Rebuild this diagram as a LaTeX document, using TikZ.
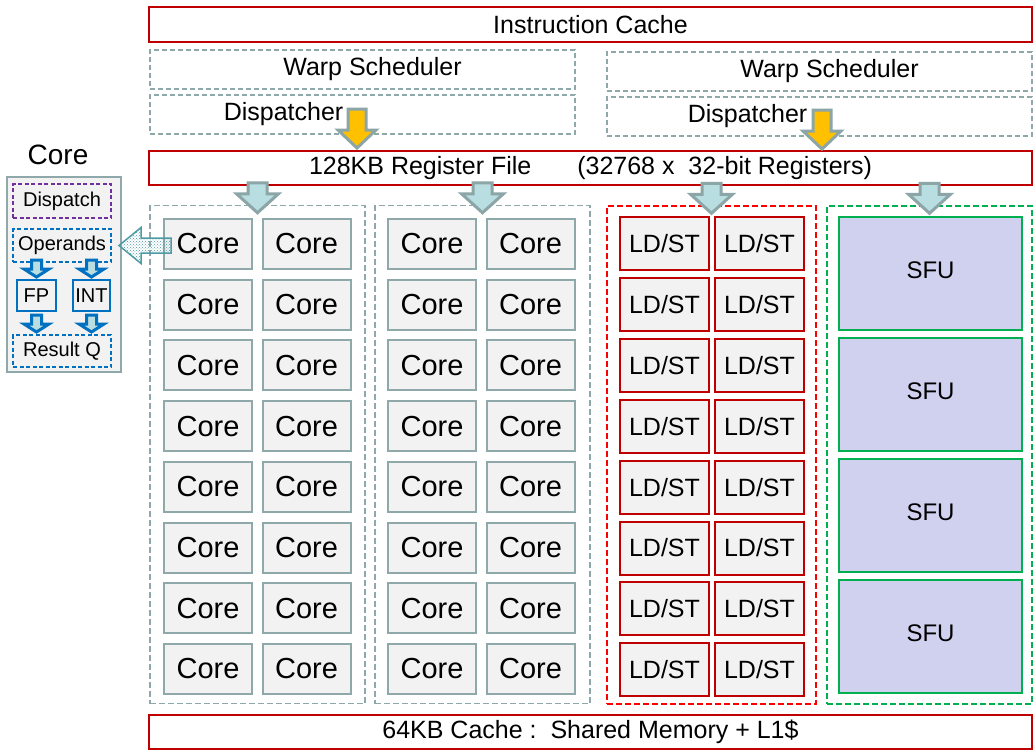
\documentclass[tikz,border=0pt]{standalone}
\usepackage{fontspec}
\setmainfont{Liberation Sans}
\usetikzlibrary{positioning,patterns}
\definecolor{cachered}{HTML}{C00000}
\definecolor{ldstred}{HTML}{FF0000}
\definecolor{tealgray}{HTML}{8FA8A9}
\definecolor{arrowgray}{HTML}{8CA5A6}
\definecolor{unitfill}{HTML}{F2F2F2}
\definecolor{sfufill}{HTML}{D0D1EE}
\definecolor{sfugreen}{HTML}{00B050}
\definecolor{dispyellow}{HTML}{FFC000}
\definecolor{feedblue}{HTML}{B9DEE2}
\definecolor{dispurple}{HTML}{7030A0}
\definecolor{opblue}{HTML}{0070C0}
\definecolor{dotteal}{HTML}{4E9BA6}
\definecolor{dotbg}{HTML}{E8F5F7}
\tikzset{
    raw unit/.style={rectangle, draw, line width=2pt, inner sep=0pt, align=center},
    core unit/.style={raw unit, draw=tealgray, fill=unitfill, minimum width=88pt, minimum height=50pt, font=\fontsize{29}{32}\selectfont},
    ldst unit/.style={raw unit, draw=cachered, fill=unitfill, minimum width=89pt, minimum height=53pt, font=\fontsize{25}{28}\selectfont},
    sfu unit/.style={raw unit, draw=sfugreen, fill=sfufill, minimum width=183pt, minimum height=113pt, font=\fontsize{24}{26}\selectfont},
    mem bar/.style={raw unit, draw=cachered, minimum width=883pt, minimum height=34pt},
    sched box/.style={raw unit, draw=tealgray, line width=1.5pt, dash pattern=on 5pt off 3pt, minimum width=425pt, minimum height=39pt},
    unit group/.style={rectangle, draw, line width=1.5pt, dash pattern=on 6pt off 3pt, inner sep=0pt, minimum width=#1, minimum height=498pt},
    panel part/.style={raw unit, draw=opblue, minimum width=98pt, font=\fontsize{20}{24}\selectfont},
    feed arrow/.style={draw=arrowgray, fill=feedblue, line width=3pt},
    disp arrow/.style={draw=arrowgray, fill=dispyellow, line width=3pt},
    tiny arrow/.style={draw=opblue, fill=feedblue, line width=3pt},
    ptr arrow/.style={draw=dotteal, line width=1.5pt, preaction={fill=dotbg}, pattern=crosshatch dots, pattern color=dotteal},
    drop/.pic={\path[pic actions] (0,-2) -- (-19,-20) -- (-9,-20) -- (-9,-41) -- (9,-41) -- (9,-20) -- (19,-20) -- cycle;},
    feed/.pic={\path[pic actions] (0,-2) -- (-21,-21) -- (-9.5,-21) -- (-9.5,-32) -- (9.5,-32) -- (9.5,-21) -- (21,-21) -- cycle;},
    tiny/.pic={\path[pic actions] (0,-2) -- (-12.5,-10) -- (-5,-10) -- (-5,-19) -- (5,-19) -- (5,-10) -- (12.5,-10) -- cycle;},
    pointer/.pic={\path[pic actions] (0,0) -- (22,-18) -- (22,-7.5) -- (52,-7.5) -- (52,7.5) -- (22,7.5) -- (22,18) -- cycle;}
}

\begin{document}
\begin{tikzpicture}[x=1pt, y=-1pt, font=\fontsize{25}{28}\selectfont]
	\useasboundingbox (0,0) rectangle (1034,750);
	% front end
	\node[mem bar, minimum height=35pt] (icache) at (590.5,24.5) {Instruction Cache};
	\node[sched box] (ws1) at (362.5,69.5) {\hspace*{20pt}Warp Scheduler};
	\node[sched box] (ds1) at (362.5,114.5) {};
	\node[anchor=west] (dt1) at ([xshift=71pt]ds1.west) {Dispatcher};
	\node[sched box] (ws2) at (819.5,71.5) {\hspace*{20pt}Warp Scheduler};
	\node[sched box] (ds2) at (819.5,116.5) {};
	\node[anchor=west] (dt2) at ([xshift=78pt]ds2.west) {Dispatcher};
	\node[mem bar] (rf) at (590.5,168) {128KB Register File\hspace{46pt}(32768 x\ \ 32-bit Registers)};
	\node[mem bar] (smem) at (590.5,732) {64KB Cache :\ \ Shared Memory + L1\$};
	% execution groups
	\node[unit group=215pt, draw=tealgray] (g1) at (257.5,454.5) {};
	\node[unit group=215pt, draw=tealgray] (g2) at (482.5,454.5) {};
	\node[unit group=209pt, draw=ldstred] (ls) at (711.5,455) {};
	\node[unit group=205pt, draw=sfugreen] (sg) at (929.5,455) {};
	\foreach \g/\xa in {1/208, 2/432}{
		\foreach \r in {0,...,7}{
			\node[core unit] (c\g-\r-1) at (\xa, 244+60.7*\r) {Core};
			\node[core unit] (c\g-\r-2) at (\xa+98.5, 244+60.7*\r) {Core};
		}
	}
	\foreach \r in {0,...,7}{
		\node[ldst unit] (l\r-1) at (664.5, 243.5+60.9*\r) {LD/ST};
		\node[ldst unit] (l\r-2) at (759.5, 243.5+60.9*\r) {LD/ST};
	}
	\foreach \r in {0,...,3}
		\node[sfu unit] (sfu\r) at (930.5, 273.5+121*\r) {\raisebox{6pt}{SFU}};
	% block arrows
	\pic[disp arrow] at (357,150) {drop};
	\pic[disp arrow] at (822,151) {drop};
	\foreach \n in {g1,g2,ls,sg}
		\pic[feed arrow] at ([yshift=-10pt]\n.north) {feed};
	% core detail
	\node[font=\fontsize{28}{32}\selectfont] (ctitle) at (58,155) {Core};
	\node[raw unit, draw=tealgray, fill=unitfill, line width=2.5pt, minimum width=114pt, minimum height=195pt] (cpanel) at (64,274.5) {};
	\node[panel part, draw=dispurple, dash pattern=on 4pt off 2.5pt, minimum height=34pt] (cdisp) at (62,201) {Dispatch};
	\node[panel part, dash pattern=on 4pt off 2.5pt, minimum height=33pt, below=9pt of cdisp] (cops) {Operands};
	\node[panel part, minimum width=39pt, minimum height=31pt] (cfp) at (36.5,295.5) {FP};
	\node[panel part, minimum width=37pt, minimum height=31pt] (cint) at (91.5,295.5) {INT};
	\node[panel part, dash pattern=on 4pt off 2.5pt, minimum height=32pt, below=71pt of cops] (cres) {Result Q};
	\pic[tiny arrow] at (cfp.north) {tiny};
	\pic[tiny arrow] at (cint.north) {tiny};
	\pic[tiny arrow] at (cfp.south |- cres.north) {tiny};
	\pic[tiny arrow] at (cint.south |- cres.north) {tiny};
	\pic[ptr arrow] at ([xshift=7pt]cops.east) {pointer};
\end{tikzpicture}
\end{document}
